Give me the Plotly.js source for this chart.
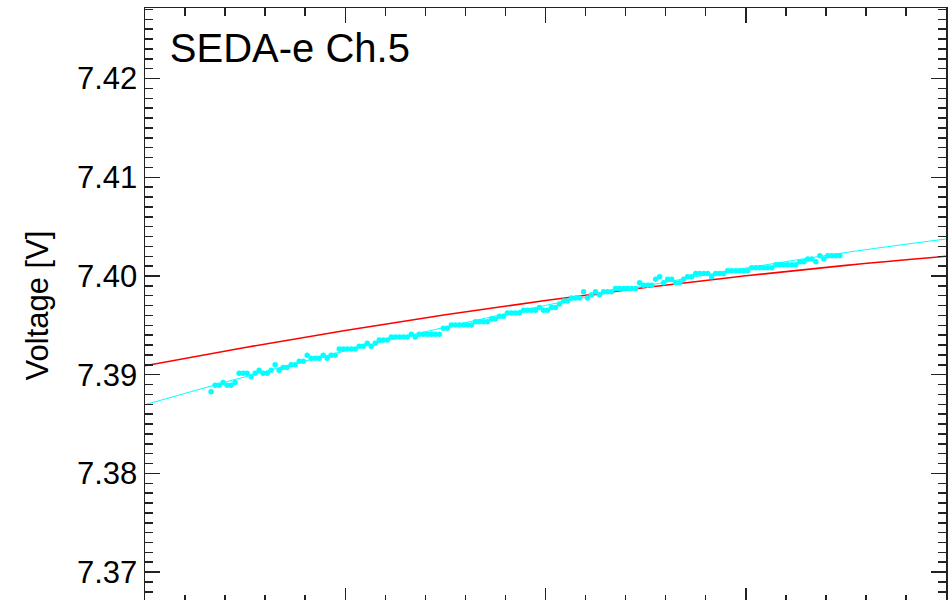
<!DOCTYPE html>
<html>
<head>
<meta charset="utf-8">
<script src="https://cdn.plot.ly/plotly-3.0.1.min.js"></script>
<style>
html,body{margin:0;padding:0;background:#fff;overflow:hidden;}
#chart{width:951px;height:605px;}
</style>
</head>
<body>
<div id="chart"></div>
<script>
// Measured data points (x in arbitrary time units, y in volts)
const dataX = [33,35,37,39,41,43,45,47,49,51,53,55,57,59,61,63,65,67,69,71,73,75,77,79,81,83,85,87,89,91,93,95,97,99,101,103,105,107,109,111,113,115,117,119,121,123,125,127,129,131,133,135,137,139,141,143,145,147,149,151,153,155,157,159,161,163,165,167,169,171,173,175,177,179,181,183,185,187,189,191,193,195,197,199,201,203,205,207,209,211,213,215,217,219,221,223,225,227,229,231,233,235,237,239,241,243,245,247,249,251,253,255,257,259,261,263,265,267,269,271,273,275,277,279,281,283,285,287,289,291,293,295,297,299,301,303,305,307,309,311,313,315,317,319,321,323,325,327,329,331,333,335,337,339,341,343,345,347];
const dataY = [7.38828,7.38892,7.38892,7.38922,7.38892,7.38892,7.38922,7.39014,7.39014,7.39014,
7.38980,7.39014,7.39044,7.39014,7.39014,7.39044,7.39101,7.39044,7.39074,7.39074,
7.39101,7.39101,7.39135,7.39135,7.39196,7.39166,7.39166,7.39166,7.39196,7.39166,
7.39196,7.39196,7.39260,7.39260,7.39260,7.39260,7.39260,7.39287,7.39287,7.39318,
7.39287,7.39318,7.39351,7.39351,7.39351,7.39382,7.39382,7.39382,7.39382,7.39382,
7.39409,7.39382,7.39409,7.39409,7.39409,7.39409,7.39409,7.39409,7.39470,7.39470,
7.39503,7.39503,7.39503,7.39503,7.39503,7.39503,7.39537,7.39537,7.39537,7.39537,
7.39564,7.39564,7.39591,7.39591,7.39625,7.39625,7.39625,7.39625,7.39652,7.39652,
7.39652,7.39652,7.39682,7.39652,7.39652,7.39682,7.39682,7.39716,7.39747,7.39747,
7.39777,7.39777,7.39777,7.39841,7.39777,7.39811,7.39841,7.39811,7.39841,7.39841,
7.39841,7.39872,7.39872,7.39872,7.39872,7.39872,7.39872,7.39932,7.39905,7.39905,
7.39905,7.39966,7.39993,7.39932,7.39966,7.39966,7.39932,7.39932,7.39966,7.39993,
7.39993,7.40024,7.40024,7.40024,7.40024,7.39993,7.40024,7.40024,7.40024,7.40054,
7.40054,7.40054,7.40054,7.40054,7.40054,7.40084,7.40084,7.40084,7.40084,7.40084,
7.40084,7.40115,7.40115,7.40115,7.40115,7.40115,7.40115,7.40145,7.40145,7.40172,
7.40172,7.40145,7.40206,7.40172,7.40206,7.40206,7.40206,7.40206];

// Fit curves read at regular positions
const fitX = [0,50,100,150,200,250,300,350,400];
const cyanFitY = [7.38696,7.38979,7.39241,7.39482,7.39702,7.39901,7.40080,7.40238,7.40375];
const redFitY  = [7.39091,7.39276,7.39448,7.39607,7.39752,7.39884,7.40002,7.40108,7.40200];

const titleText = "SEDA-e Ch.5";
const yTitle = "Voltage [V]";

const FONT = '"Liberation Sans", Arial, Helvetica, sans-serif';
const AX = '#222';

const traces = [
  {x: fitX, y: cyanFitY, mode:'lines', line:{color:'#00FFFF', width:1, shape:'spline'}, hoverinfo:'skip'},
  {x: fitX, y: redFitY, mode:'lines', line:{color:'#FF0000', width:1.6, shape:'spline'}, hoverinfo:'skip'},
  {x: dataX, y: dataY, mode:'markers', marker:{color:'#00FFFF', size:5.5, line:{width:0}}}
];

const layout = {
  width: 951, height: 605,
  margin: {l:145, r:5, t:8, b:2, pad:0},
  paper_bgcolor:'#fff', plot_bgcolor:'#fff',
  showlegend:false,
  font:{family:FONT, color:'#000'},
  title:{text:titleText, font:{family:FONT, size:40, color:'#000'},
         xref:'paper', yref:'paper', x:0.031, y:0.933, xanchor:'left', yanchor:'middle'},
  xaxis:{
    range:[0,400], showgrid:false, zeroline:false,
    showline:true, linecolor:AX, linewidth:1.5, mirror:'allticks',
    ticks:'inside', ticklen:15, tickwidth:1.5, tickcolor:AX,
    tick0:0, dtick:100, showticklabels:false,
    minor:{ticks:'inside', ticklen:8, tickwidth:1.5, tickcolor:AX, dtick:20, showgrid:false}
  },
  yaxis:{
    range:[7.36687,7.42715], showgrid:false, zeroline:false,
    showline:true, linecolor:AX, linewidth:1.5, mirror:'allticks',
    ticks:'inside', ticklen:15, tickwidth:1.5, tickcolor:AX,
    tick0:7.37, dtick:0.01, tickformat:'.2f',
    tickfont:{family:FONT, size:31, color:'#000'},
    minor:{ticks:'inside', ticklen:8, tickwidth:1.5, tickcolor:AX, dtick:0.001, showgrid:false},
    title:{text:yTitle, font:{family:FONT, size:31, color:'#000'}, standoff:19}
  }
};

Plotly.newPlot('chart', traces, layout, {staticPlot:true, displayModeBar:false});
</script>
</body>
</html>
